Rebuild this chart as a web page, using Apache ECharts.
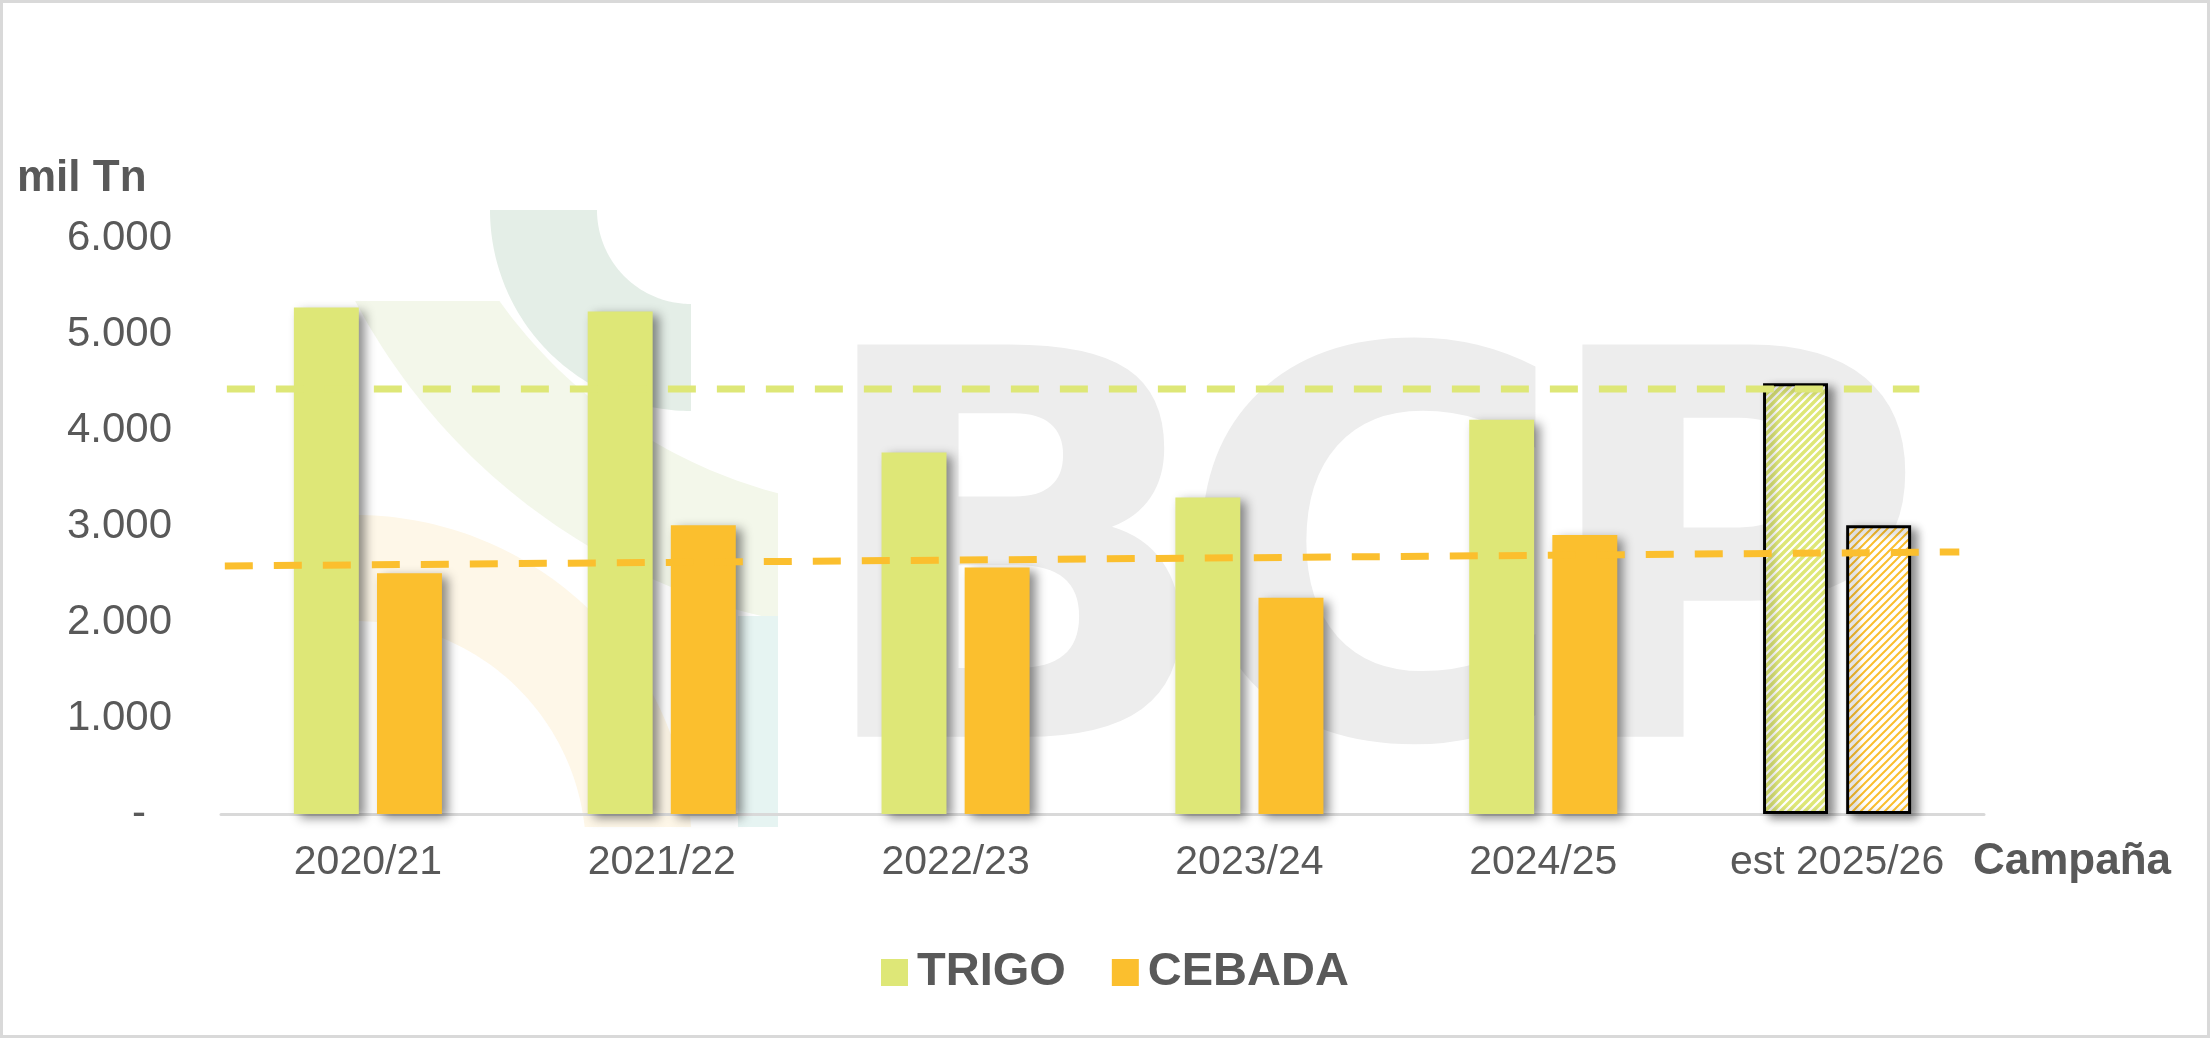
<!DOCTYPE html>
<html><head><meta charset="utf-8">
<script src="https://cdn.jsdelivr.net/npm/echarts@6/dist/echarts.min.js"></script>
<style>html,body{margin:0;padding:0;background:#fff}#c{width:2210px;height:1038px}</style>
</head><body><div id="c"></div>
<script>
// ---- data ----
const categories = ['2020/21', '2021/22', '2022/23', '2023/24', '2024/25', 'est 2025/26'];
const trigo = [5280, 5240, 3770, 3300, 4110, 4490];
const cebada = [2510, 3010, 2570, 2255, 2910, 3010];
const estimateIndex = 5;
// dashed reference lines (x in category units along the axis, 0..6)
const trigoLineX = [0.02, 5.78];
const trigoLineY = [4430, 4430];
const cebadaLineX = [0.013, 5.916];
const cebadaLineY = [2586, 2732];
const yMin = 0, yMax = 6000, yStep = 1000;

// ---- styles ----
const GREEN = '#dee777', ORANGE = '#fbbf2e', TXT = '#595959';
const FONT = '"Liberation Sans", Arial, sans-serif';

function hatch(color, lw) {
  const c = document.createElement('canvas');
  c.width = 8; c.height = 8;
  const g = c.getContext('2d');
  g.fillStyle = '#ffffff'; g.fillRect(0, 0, 8, 8);
  g.strokeStyle = color; g.lineWidth = lw;
  g.beginPath();
  g.moveTo(-2, 10); g.lineTo(10, -2);
  g.moveTo(-6, 6); g.lineTo(6, -6);
  g.moveTo(2, 14); g.lineTo(14, 2);
  g.stroke();
  return c;
}

function clipPoly(pts, c) {
  const x0 = c.x0 ?? -1e5, x1 = c.x1 ?? 1e5, y0 = c.y0 ?? -1e5, y1 = c.y1 ?? 1e5;
  const edges = [
    [p => p[0] >= x0, (a, b) => { const t = (x0 - a[0]) / (b[0] - a[0]); return [x0, a[1] + t * (b[1] - a[1])]; }],
    [p => p[0] <= x1, (a, b) => { const t = (x1 - a[0]) / (b[0] - a[0]); return [x1, a[1] + t * (b[1] - a[1])]; }],
    [p => p[1] >= y0, (a, b) => { const t = (y0 - a[1]) / (b[1] - a[1]); return [a[0] + t * (b[0] - a[0]), y0]; }],
    [p => p[1] <= y1, (a, b) => { const t = (y1 - a[1]) / (b[1] - a[1]); return [a[0] + t * (b[0] - a[0]), y1]; }]
  ];
  let out = pts;
  for (const [inside, inter] of edges) {
    const inp = out; out = [];
    for (let i = 0; i < inp.length; i++) {
      const cur = inp[i], prev = inp[(i + inp.length - 1) % inp.length];
      if (inside(cur)) { if (!inside(prev)) out.push(inter(prev, cur)); out.push(cur); }
      else if (inside(prev)) out.push(inter(prev, cur));
    }
  }
  return out;
}
function ring(cx, cy, r0, r, a0, a1, clip) {
  const pts = [], n = 80;
  for (let i = 0; i <= n; i++) { const a = (a0 + (a1 - a0) * i / n) * Math.PI / 180; pts.push([cx + r * Math.cos(a), cy + r * Math.sin(a)]); }
  for (let i = n; i >= 0; i--) { const a = (a0 + (a1 - a0) * i / n) * Math.PI / 180; pts.push([cx + r0 * Math.cos(a), cy + r0 * Math.sin(a)]); }
  return clip ? clipPoly(pts, clip) : pts;
}

const fmt = v => String(v).replace(/\B(?=(\d{3})+(?!\d))/g, '.');

const barShadow = { shadowColor: 'rgba(0,0,0,0.45)', shadowBlur: 10, shadowOffsetX: 6, shadowOffsetY: 4 };

const chart = echarts.init(document.getElementById('c'), null, { renderer: 'canvas' });
chart.setOption({
  animation: false,
  backgroundColor: '#ffffff',
  textStyle: { fontFamily: FONT },
  grid: { left: 221, right: 226, top: 238.5, bottom: 224, containLabel: false, outerBoundsMode: 'none' },
  legend: {
    data: ['TRIGO', 'CEBADA'], left: 876, top: 944, itemWidth: 27, itemHeight: 27, itemGap: 46, icon: 'rect',
    textStyle: { fontSize: 47, fontWeight: 'bold', color: TXT, fontFamily: FONT, padding: [0, 0, 0, 4] },
    itemStyle: { shadowBlur: 0, shadowOffsetX: 0, shadowOffsetY: 0, borderWidth: 0 }
  },
  xAxis: [{
    type: 'category', data: categories,
    axisLine: { lineStyle: { color: '#d9d9d9', width: 3 } },
    axisTick: { show: false },
    axisLabel: { interval: 0, fontSize: 41, color: TXT, margin: 28, fontFamily: FONT }
  }, {
    type: 'value', min: 0, max: categories.length, show: false
  }],
  yAxis: {
    type: 'value', min: yMin, max: yMax, interval: yStep,
    axisLine: { show: false }, axisTick: { show: false }, splitLine: { show: false },
    axisLabel: {
      fontSize: 42, color: TXT, margin: 49, fontFamily: FONT,
      formatter: v => v === 0 ? '{z|-}' : fmt(v),
      rich: { z: { fontSize: 42, color: TXT, fontFamily: FONT, padding: [0, 26, 0, 0] } }
    }
  },
  graphic: [
    { type: 'rect', shape: { x: 1.5, y: 1.5, width: 2207, height: 1035 }, style: { fill: 'none', stroke: '#d9d9d9', lineWidth: 3 }, z: 0, silent: true },
    { type: 'polygon', shape: { points: ring(691, 210, 94, 201, 90, 180) }, style: { fill: '#e4eee7' }, z: 0, silent: true },
    { type: 'polygon', shape: { points: ring(906, 10, 500, 623, 90, 178, { x1: 778, y0: 301 }) }, style: { fill: '#f3f7ea' }, z: 0, silent: true },
    { type: 'polygon', shape: { points: ring(355, 852, 231, 337, -90, 0, { y1: 827 }) }, style: { fill: '#fef7e8' }, z: 0, silent: true },
    { type: 'rect', shape: { x: 738, y: 616, width: 40, height: 211 }, style: { fill: '#e6f4f2' }, z: 0, silent: true },
    { type: 'text', x: 808, y: 597, style: { text: 'B', font: 'bold 538px "DejaVu Sans"', fill: '#ededed', align: 'left', verticalAlign: 'middle' }, z: 0, silent: true },
    { type: 'text', x: 1175, y: 597, style: { text: 'C', font: 'bold 538px "DejaVu Sans"', fill: '#ededed', align: 'left', verticalAlign: 'middle' }, z: 0, silent: true },
    { type: 'text', x: 1533, y: 597, style: { text: 'P', font: 'bold 538px "DejaVu Sans"', fill: '#ededed', align: 'left', verticalAlign: 'middle' }, z: 0, silent: true },
    { type: 'text', x: 17, y: 179, style: { text: 'mil Tn', font: 'bold 44px ' + FONT, fill: TXT, align: 'left', verticalAlign: 'middle' }, z: 10 },
    { type: 'text', x: 1973, y: 862, style: { text: 'Campaña', font: 'bold 44px ' + FONT, fill: TXT, align: 'left', verticalAlign: 'middle' }, z: 10 }
  ],
  series: [
    {
      name: 'TRIGO', type: 'bar', barWidth: '22.1%', barGap: '28%',
      itemStyle: Object.assign({ color: GREEN }, barShadow),
      data: trigo.map((v, i) => i === estimateIndex
        ? { value: v, itemStyle: { color: { image: hatch(GREEN, 3.4), repeat: 'repeat' }, borderColor: '#000', borderWidth: 3 } }
        : v)
    },
    {
      name: 'CEBADA', type: 'bar', barWidth: '22.1%', barGap: '28%',
      itemStyle: Object.assign({ color: ORANGE }, barShadow),
      data: cebada.map((v, i) => i === estimateIndex
        ? { value: v, itemStyle: { color: { image: hatch(ORANGE, 2), repeat: 'repeat' }, borderColor: '#000', borderWidth: 3 } }
        : v)
    },
    {
      name: 'trigoLine', type: 'line', xAxisIndex: 1, symbol: 'none', silent: true, z: 5,
      lineStyle: { color: GREEN, width: 7, type: [28, 21], cap: 'butt' },
      data: trigoLineX.map((x, i) => [x, trigoLineY[i]])
    },
    {
      name: 'cebadaLine', type: 'line', xAxisIndex: 1, symbol: 'none', silent: true, z: 5,
      lineStyle: { color: ORANGE, width: 7, type: [28, 21], cap: 'butt' },
      data: cebadaLineX.map((x, i) => [x, cebadaLineY[i]])
    }
  ]
});
</script></body></html>
